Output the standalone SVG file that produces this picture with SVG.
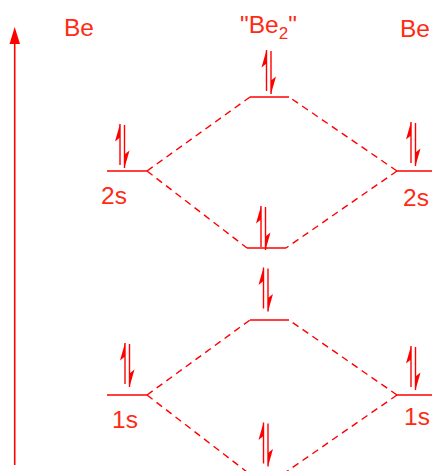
<svg xmlns="http://www.w3.org/2000/svg" xmlns:xlink="http://www.w3.org/1999/xlink" width="432" height="471" viewBox="0 0 432 471">
<style>
.t{font-family:"Liberation Sans",Arial,sans-serif;font-size:24.5px;fill:#ff2a14}
.lvl{stroke:#ff0000;stroke-width:1.7;fill:none}
.dash{stroke:#ff0000;stroke-width:1.4;fill:none;stroke-dasharray:7 5}
.e{stroke:#ff0000;stroke-width:1.4;fill:none}
.b{fill:#ff0000;stroke:none}
</style>
<defs>
<g id="pair">
<line class="e" x1="0" y1="-3" x2="0" y2="-44"/>
<polygon class="b" points="0,-44 -5,-26.5 0,-30.5"/>
<line class="e" x1="4.5" y1="-43" x2="4.5" y2="0"/>
<polygon class="b" points="4.5,0 9.5,-17.5 4.5,-13.5"/>
</g>
</defs>
<g id="energy-axis">
<line x1="14.7" y1="465" x2="14.7" y2="40" stroke="#ff0000" stroke-width="1.6"/>
<polygon points="14.7,27 9.5,44 20,44" fill="#ff0000"/>
</g>
<g id="labels">
<text class="t" x="64" y="36">Be</text>
<text class="t" x="400" y="37">Be</text>
<text class="t" x="240" y="33">"Be<tspan font-size="17" dy="6">2</tspan><tspan dy="-6">"</tspan></text>
</g>
<g id="connectors">
<line class="dash" x1="147" y1="171" x2="250" y2="97"/>
<line class="dash" x1="147" y1="171" x2="247" y2="248"/>
<line class="dash" x1="397" y1="171" x2="289" y2="97"/>
<line class="dash" x1="397" y1="171" x2="286" y2="248"/>
<line class="dash" x1="147" y1="395" x2="250" y2="320"/>
<line class="dash" x1="147" y1="395" x2="247" y2="472"/>
<line class="dash" x1="397" y1="395" x2="289" y2="320"/>
<line class="dash" x1="397" y1="395" x2="286" y2="472"/>
</g>
<g id="be-left-2s">
<line class="lvl" x1="107" y1="171" x2="147" y2="171"/>
<use xlink:href="#pair" x="120" y="168"/>
<text class="t" x="101" y="204">2s</text>
</g>
<g id="be-right-2s">
<line class="lvl" x1="397" y1="171" x2="432" y2="171"/>
<use xlink:href="#pair" x="411" y="166"/>
<text class="t" x="403" y="206">2s</text>
</g>
<g id="sigma-star-2s">
<line class="lvl" x1="250" y1="97" x2="289" y2="97"/>
<use xlink:href="#pair" x="266.5" y="94"/>
</g>
<g id="sigma-2s">
<line class="lvl" x1="247" y1="248" x2="286" y2="248"/>
<use xlink:href="#pair" x="261" y="250"/>
</g>
<g id="be-left-1s">
<line class="lvl" x1="107" y1="395" x2="147" y2="395"/>
<use xlink:href="#pair" x="125" y="387"/>
<text class="t" x="112" y="428">1s</text>
</g>
<g id="be-right-1s">
<line class="lvl" x1="397" y1="395" x2="432" y2="395"/>
<use xlink:href="#pair" x="411" y="390"/>
<text class="t" x="404" y="425">1s</text>
</g>
<g id="sigma-star-1s">
<line class="lvl" x1="250" y1="320" x2="289" y2="320"/>
<use xlink:href="#pair" x="263.5" y="311.5"/>
</g>
<g id="sigma-1s">
<line class="lvl" x1="247" y1="472" x2="286" y2="472"/>
<use xlink:href="#pair" x="263.5" y="466.5"/>
</g>
</svg>
